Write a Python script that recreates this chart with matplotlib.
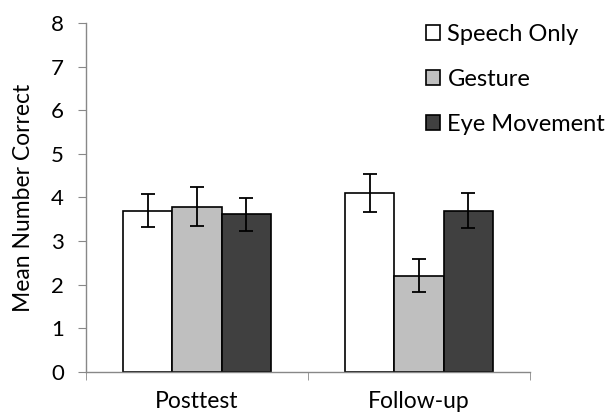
import matplotlib
matplotlib.use("Agg")
import matplotlib.pyplot as plt
import numpy as np

plt.rcParams['font.family'] = ['Lato', 'DejaVu Sans']

sessions = ["Posttest", "Follow-up"]
conditions = ["Speech Only", "Gesture", "Eye Movement"]
means = {
    "Speech Only": [3.70, 4.10],
    "Gesture": [3.79, 2.21],
    "Eye Movement": [3.61, 3.70],
}
errors = {
    "Speech Only": [0.38, 0.43],
    "Gesture": [0.45, 0.38],
    "Eye Movement": [0.37, 0.40],
}
colors = ["#ffffff", "#bfbfbf", "#404040"]

fig = plt.figure(figsize=(6.15, 4.17), dpi=100)
ax = fig.add_axes([0.140, 0.108, 0.722, 0.837])

x = np.arange(len(sessions))
w = 0.222
for i, cond in enumerate(conditions):
    ax.bar(x + (i - 1) * w, means[cond], w, color=colors[i], edgecolor="black",
           linewidth=1.2, label=cond,
           yerr=errors[cond], capsize=5,
           error_kw=dict(elinewidth=1.3, capthick=1.3, ecolor="black"))

ax.set_xlim(-0.5, 1.5)
ax.set_ylim(0, 8)
ax.set_yticks(range(9))
ax.set_xticks(x)
ax.set_xticklabels(sessions)
ax.set_xticks([-0.5, 0.5, 1.5], minor=True)
ax.tick_params(axis="x", which="major", length=0, pad=14, labelsize=16.5)
ax.tick_params(axis="x", which="minor", length=6, color="#888888", direction="out")
ax.tick_params(axis="y", length=6, color="#888888", labelsize=16, pad=10)
ax.set_ylabel("Mean Number Correct", fontsize=16.5, va="center")
ax.yaxis.set_label_coords(-0.142, 0.5)

for s in ["top", "right"]:
    ax.spines[s].set_visible(False)
for s in ["left", "bottom"]:
    ax.spines[s].set_color("#888888")
    ax.spines[s].set_linewidth(1.0)

fig.legend(loc="upper left", bbox_to_anchor=(0.693, 0.943), frameon=False,
           fontsize=17, handlelength=0.6, handleheight=0.6, handletextpad=0.3,
           labelspacing=1.02, borderaxespad=0, borderpad=0)

fig.savefig("out.png", dpi=100)
